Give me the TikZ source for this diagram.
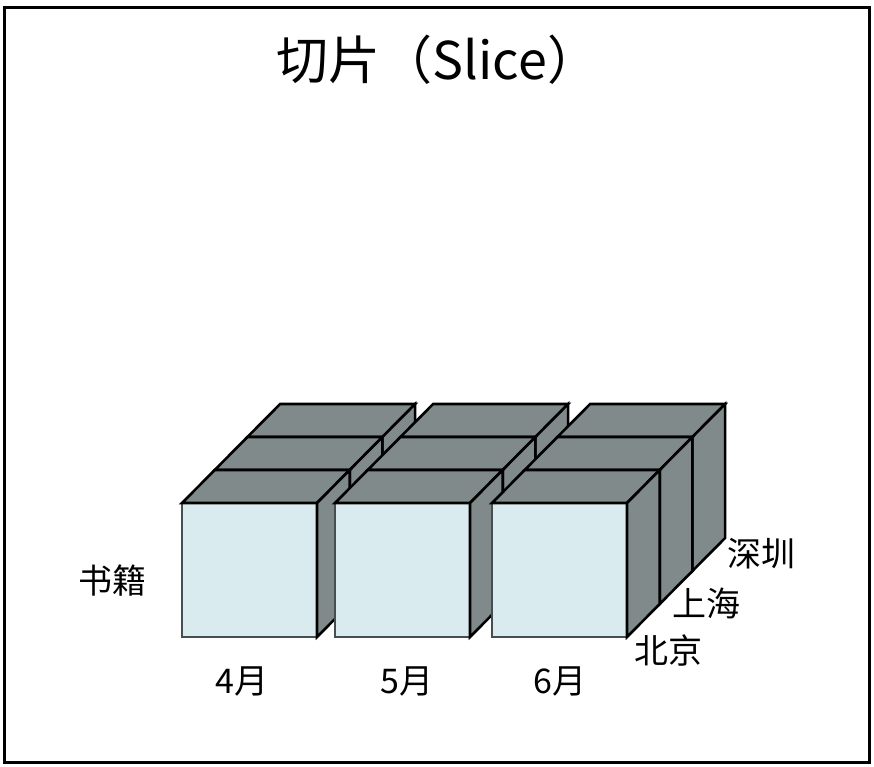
\documentclass[tikz,border=0pt]{standalone}
\usepackage{fontspec}
\setmainfont{Noto Sans CJK SC}
\definecolor{cubegray}{HTML}{808A8A}
\definecolor{frontblue}{HTML}{DAEBF0}
\definecolor{frontedge}{HTML}{454E52}
\newcommand\mycube[2]{%
  \fill[frontblue,draw=frontedge,line width=2.2pt] (#1,#2) rectangle ++(135,134);
  \filldraw[fill=cubegray,draw=black,line width=2.6pt,line join=miter]
    (#1,#2) -- ++(32.7,-33) -- ++(135,0) -- ++(-32.7,33) -- cycle;
  \filldraw[fill=cubegray,draw=black,line width=2.6pt,line join=miter]
    (#1+135,#2) -- ++(32.7,-33) -- ++(0,134) -- ++(-32.7,33) -- cycle;
}
\tikzset{lbl/.style={font=\fontsize{34}{34}\selectfont, inner sep=0pt}}
\begin{document}
\begin{tikzpicture}[x=1pt,y=-1pt]
\useasboundingbox (0,0) rectangle (874,766);
\draw[line width=3pt] (4.5,7.5) rectangle (869,762);
\node[font=\fontsize{52}{52}\selectfont, inner sep=0pt] (title) at (438,60) {切片（Slice）};
\foreach \k in {2,1,0}{
  \foreach \xx in {182,335,492}{
    \mycube{\xx+32.7*\k}{503-33*\k}
  }
}
\node[lbl] (books) at (112,581) {书籍};
\node[lbl] (apr) at (242,681) {4月};
\node[lbl] (may) at (407,681) {5月};
\node[lbl] (jun) at (560,681) {6月};
\node[lbl] (bj) at (668,650) {北京};
\node[lbl] (sh) at (706,603) {上海};
\node[lbl] (sz) at (761,554) {深圳};
\end{tikzpicture}
\end{document}
